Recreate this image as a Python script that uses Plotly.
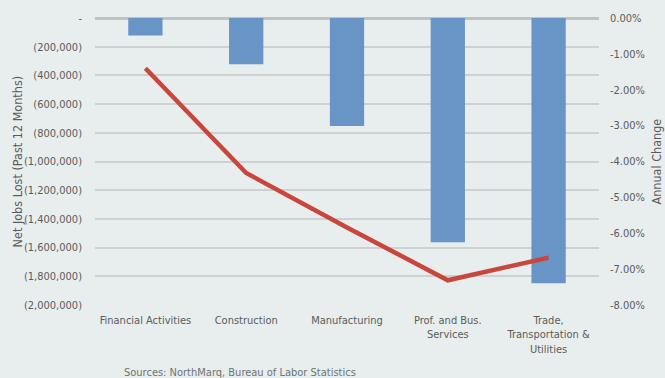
import plotly.graph_objects as go

categories = ["Financial Activities", "Construction", "Manufacturing",
              "Prof. and Bus.<br>Services", "Trade,<br>Transportation &<br>Utilities"]
net_jobs_lost = [-122000, -322000, -753000, -1562000, -1849000]
annual_change = [-1.40, -4.32, -5.84, -7.31, -6.68]

left_tickvals = [0, -200000, -400000, -600000, -800000, -1000000,
                 -1200000, -1400000, -1600000, -1800000, -2000000]
left_ticktext = ["-"] + ["({:,})".format(-v) for v in left_tickvals[1:]]
right_tickvals = [0, -1, -2, -3, -4, -5, -6, -7, -8]
right_ticktext = ["{:.2f}%".format(v) if v != 0 else "0.00%" for v in right_tickvals]

FONT = "Liberation Sans Narrow, DejaVu Sans Condensed, Roboto, sans-serif"
TXT = "#5b5b5b"
BG = "#e8eeee"

fig = go.Figure()
fig.add_trace(go.Bar(x=categories, y=net_jobs_lost, marker_color="#6894c6",
                     marker_line_width=0, yaxis="y", showlegend=False))
fig.add_trace(go.Scatter(x=categories, y=annual_change, mode="lines",
                         line=dict(color="#c9463d", width=4.5), yaxis="y2",
                         showlegend=False))

fig.update_layout(
    width=665, height=378,
    margin=dict(l=95, r=66, t=18, b=73, autoexpand=False),
    paper_bgcolor=BG, plot_bgcolor=BG,
    font=dict(family=FONT, size=11, color=TXT),
    bargap=0.66,
    xaxis=dict(showgrid=False, showline=False, ticks="", automargin=False,
               tickfont=dict(size=11, color=TXT), ticklabelstandoff=7),
    yaxis=dict(range=[-2000000, 0], tickvals=left_tickvals, ticktext=left_ticktext,
               showgrid=True, gridcolor="#cdd1d1", gridwidth=1.5, automargin=False,
               zeroline=True, zerolinecolor="#bfc3c3", zerolinewidth=2.5,
               tickfont=dict(size=11, color=TXT), ticks="", ticklabelstandoff=12),
    yaxis2=dict(range=[-8, 0], tickvals=right_tickvals, ticktext=right_ticktext,
                overlaying="y", side="right", showgrid=False, zeroline=False,
                tickfont=dict(size=11, color=TXT),
                automargin=False, ticks="", ticklabelstandoff=10),
    annotations=[
        dict(text="Sources: NorthMarq, Bureau of Labor Statistics",
             xref="paper", yref="paper", x=0.288, y=-0.234, xanchor="center",
             yanchor="middle", showarrow=False,
             font=dict(size=11, color="#6f7373", family=FONT)),
        dict(text="Net Jobs Lost (Past 12 Months)", textangle=-90,
             xref="paper", yref="paper", x=-0.153, y=0.5, xanchor="center",
             yanchor="middle", showarrow=False,
             font=dict(size=12.5, color=TXT, family=FONT)),
        dict(text="Annual Change", textangle=-90,
             xref="paper", yref="paper", x=1.115, y=0.5, xanchor="center",
             yanchor="middle", showarrow=False,
             font=dict(size=12.5, color=TXT, family=FONT)),
    ],
)

fig.write_html("out.html", config={"displayModeBar": False},
               post_script="document.body.style.margin='0';document.body.style.overflow='hidden';")
